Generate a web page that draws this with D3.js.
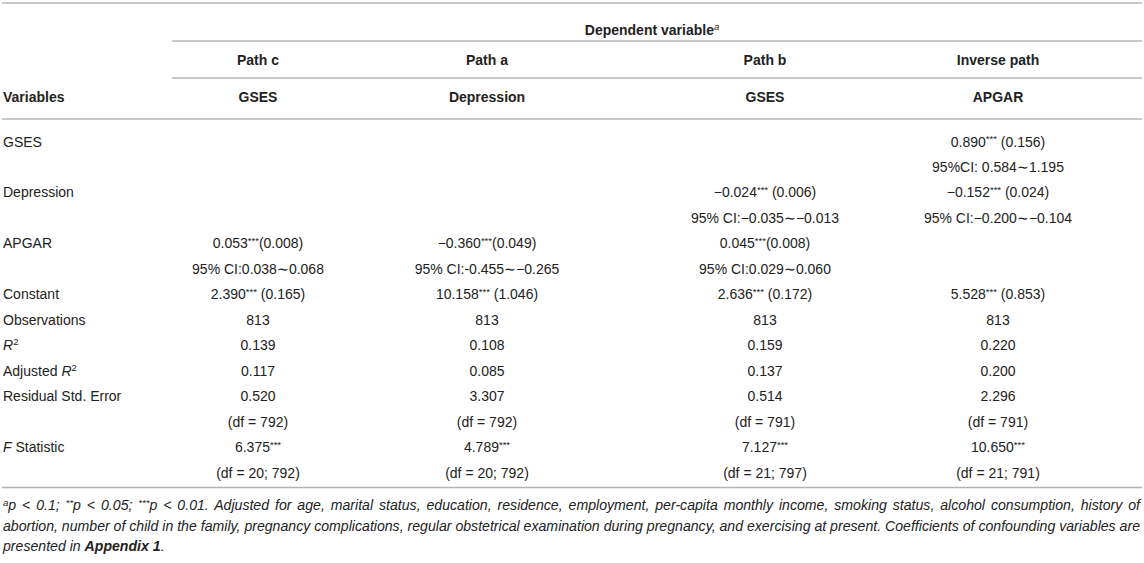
<!DOCTYPE html>
<html><head><meta charset="utf-8">
<script src="https://cdn.jsdelivr.net/npm/d3@7"></script>
<style>
html,body{margin:0;padding:0;background:#fff;}
svg{display:block;font-family:"Liberation Sans",Arial,Helvetica,sans-serif;}
</style></head>
<body>
<svg id="chart" width="1144" height="563"></svg>
<script>
// ---- data ----
const columns = ["Path c", "Path a", "Path b", "Inverse path"];
const dependents = ["GSES", "Depression", "GSES", "APGAR"];
const rowLabels = ["GSES", "", "Depression", "", "APGAR", "", "Constant", "Observations", "R2", "Adjusted R2", "Residual Std. Error", "", "F Statistic", ""];
const gsesCoef = ["", "", "", "0.890*** (0.156)"];
const gsesCI = ["", "", "", "95%CI: 0.584∼1.195"];
const depressionCoef = ["", "", "−0.024*** (0.006)", "−0.152*** (0.024)"];
const depressionCI = ["", "", "95% CI:−0.035∼−0.013", "95% CI:−0.200∼−0.104"];
const apgarCoef = ["0.053***(0.008)", "−0.360***(0.049)", "0.045***(0.008)", ""];
const apgarCI = ["95% CI:0.038∼0.068", "95% CI:-0.455∼−0.265", "95% CI:0.029∼0.060", ""];
const constant = ["2.390*** (0.165)", "10.158*** (1.046)", "2.636*** (0.172)", "5.528*** (0.853)"];
const observations = ["813", "813", "813", "813"];
const rSquared = ["0.139", "0.108", "0.159", "0.220"];
const adjRSquared = ["0.117", "0.085", "0.137", "0.200"];
const residualSE = ["0.520", "3.307", "0.514", "2.296"];
const residualDf = ["(df = 792)", "(df = 792)", "(df = 791)", "(df = 791)"];
const fStatistic = ["6.375***", "4.789***", "7.127***", "10.650***"];
const fDf = ["(df = 20; 792)", "(df = 20; 792)", "(df = 21; 797)", "(df = 21; 791)"];
const footnoteLines = [
  "ap < 0.1; **p < 0.05; ***p < 0.01. Adjusted for age, marital status, education, residence, employment, per-capita monthly income, smoking status, alcohol consumption, history of",
  "abortion, number of child in the family, pregnancy complications, regular obstetrical examination during pregnancy, and exercising at present. Coefficients of confounding variables are",
  "presented in Appendix 1."
];

const bodyRows = [gsesCoef, gsesCI, depressionCoef, depressionCI, apgarCoef, apgarCI, constant, observations, rSquared, adjRSquared, residualSE, residualDf, fStatistic, fDf];

// ---- layout ----
const textColor = "#222";
const lineColor = "#b4b4b4";
const fs = 14;
const svg = d3.select("#chart");

const x = d3.scaleOrdinal().domain(columns).range([258, 487, 765, 998]);
const y = d3.scaleLinear().domain([0, bodyRows.length - 1]).range([141.5, 472.5]);

function hline(yy, x0, x1) {
  svg.append("line").attr("x1", x0).attr("x2", x1).attr("y1", yy).attr("y2", yy)
    .attr("stroke", lineColor).attr("stroke-width", 1.6);
}

function starText(sel, str) {
  const parts = str.split(/(\*+)/);
  parts.forEach(p => {
    if (!p) return;
    if (/^\*+$/.test(p)) {
      sel.append("tspan").attr("font-size", 9.5).attr("dy", -4.5).text(p);
      sel.append("tspan").attr("font-size", fs).attr("dy", 4.5).text("\u200b");
    } else {
      sel.append("tspan").text(p);
    }
  });
}

hline(3, 2, 1142);
hline(41, 172, 1142);
hline(78, 172, 1142);
hline(119, 2, 1142);
hline(487.5, 2, 1142);

const dv = svg.append("text").attr("x", 652).attr("y", 35).attr("text-anchor", "middle")
  .attr("font-size", fs).attr("font-weight", "bold").attr("fill", textColor);
dv.append("tspan").text("Dependent variable");
dv.append("tspan").attr("font-size", 9.5).attr("dy", -5).attr("font-style", "italic").attr("font-weight", "normal").text("a");

svg.selectAll("text.colhead").data(columns).join("text").attr("class", "colhead")
  .attr("x", d => x(d)).attr("y", 65).attr("text-anchor", "middle")
  .attr("font-size", fs).attr("font-weight", "bold").attr("fill", textColor).text(d => d);

svg.selectAll("text.dep").data(dependents).join("text").attr("class", "dep")
  .attr("x", (d, i) => x(columns[i])).attr("y", 102).attr("text-anchor", "middle")
  .attr("font-size", fs).attr("font-weight", "bold").attr("fill", textColor).text(d => d);

svg.append("text").attr("x", 3).attr("y", 102).attr("font-size", fs).attr("font-weight", "bold")
  .attr("fill", textColor).text("Variables");

rowLabels.forEach((lab, i) => {
  if (!lab) return;
  const t = svg.append("text").attr("x", 3).attr("y", y(i) + 5).attr("font-size", fs).attr("fill", textColor);
  if (lab === "R2") {
    t.append("tspan").attr("font-style", "italic").text("R");
    t.append("tspan").attr("font-size", 9.5).attr("dy", -5).text("2");
  } else if (lab === "Adjusted R2") {
    t.append("tspan").text("Adjusted ");
    t.append("tspan").attr("font-style", "italic").text("R");
    t.append("tspan").attr("font-size", 9.5).attr("dy", -5).text("2");
  } else if (lab === "F Statistic") {
    t.append("tspan").attr("font-style", "italic").text("F");
    t.append("tspan").text(" Statistic");
  } else {
    t.text(lab);
  }
});

bodyRows.forEach((row, i) => {
  row.forEach((val, j) => {
    if (!val) return;
    const t = svg.append("text").attr("x", x(columns[j])).attr("y", y(i) + 5)
      .attr("text-anchor", "middle").attr("font-size", fs).attr("fill", textColor);
    starText(t, val);
  });
});

// footnote (justified lines 1 and 2)
const fy = [510, 530.5, 551];
const targetW = 1137;
const foot = svg.append("g").attr("font-style", "italic").attr("fill", textColor).attr("font-size", 14);
const t1 = foot.append("text").attr("x", 3).attr("y", fy[0]);
{
  const s = footnoteLines[0];
  t1.append("tspan").attr("font-size", 9.5).attr("dy", -4.5).text("a");
  t1.append("tspan").attr("dy", 4.5).text("p < 0.1; ");
  t1.append("tspan").attr("font-size", 9.5).attr("dy", -4.5).text("**");
  t1.append("tspan").attr("dy", 4.5).text("p < 0.05; ");
  t1.append("tspan").attr("font-size", 9.5).attr("dy", -4.5).text("***");
  t1.append("tspan").attr("dy", 4.5).text(s.slice(s.indexOf("p < 0.01")));
}
const t2 = foot.append("text").attr("x", 3).attr("y", fy[1]).text(footnoteLines[1]);
{
  const s = footnoteLines[2];
  const t = foot.append("text").attr("x", 3).attr("y", fy[2]);
  t.append("tspan").text(s.slice(0, s.indexOf("Appendix")));
  t.append("tspan").attr("font-weight", "bold").text("Appendix 1");
  t.append("tspan").text(".");
}
// size font so the longest line fits, then justify with word spacing
{
  const w1 = t1.node().getComputedTextLength();
  const w2 = t2.node().getComputedTextLength();
  const wMax = Math.max(w1, w2);
  if (wMax > 0) {
    const f = 14 * targetW / wMax;
    foot.attr("font-size", f);
    [[t1, footnoteLines[0]], [t2, footnoteLines[1]]].forEach(([t, s]) => {
      const w = t.node().getComputedTextLength();
      const spaces = (s.match(/ /g) || []).length;
      if (spaces > 0 && w < targetW) t.attr("word-spacing", (targetW - w) / spaces);
    });
  }
}
</script>
</body></html>
